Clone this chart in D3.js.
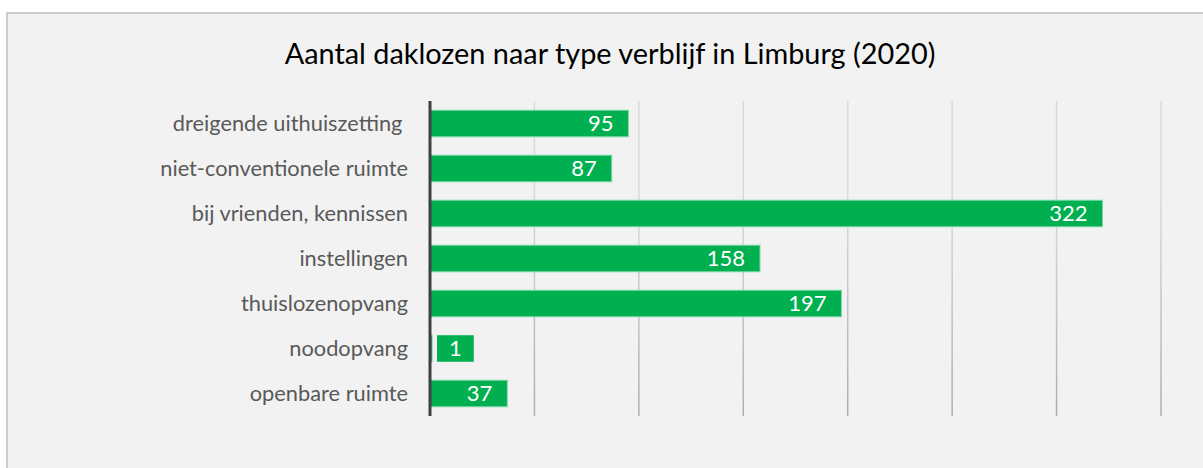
<!DOCTYPE html>
<html>
<head>
<meta charset="utf-8">
<script src="https://cdn.jsdelivr.net/npm/d3@7"></script>
<style>
  body { margin: 0; background: #ffffff; }
  svg { display: block; }
</style>
</head>
<body>
<div id="chart"></div>
<script>
var titleText = "Aantal daklozen naar type verblijf in Limburg (2020)";
var categories = [
    "dreigende uithuiszetting ",
    "niet-conventionele ruimte",
    "bij vrienden, kennissen",
    "instellingen",
    "thuislozenopvang",
    "noodopvang",
    "openbare ruimte"
];
var values = [95, 87, 322, 158, 197, 1, 37];
var tickValues = [0, 50, 100, 150, 200, 250, 300, 350];

var totalWidth = 1203,
    totalHeight = 468;

var margin = { top: 101, right: 42, bottom: 52, left: 430 };
var width = totalWidth - margin.left - margin.right,
    height = totalHeight - margin.top - margin.bottom;

var fontFamily = "Lato, 'Open Sans', sans-serif";

var data = categories.map(function(c, i) {
    return { name: c, value: values[i] };
});

var svg = d3.select("#chart").append("svg")
    .attr("width", totalWidth)
    .attr("height", totalHeight);

// chart area frame
svg.append("rect")
    .attr("x", 7)
    .attr("y", 13)
    .attr("width", totalWidth)
    .attr("height", totalHeight)
    .attr("fill", "#f2f2f2")
    .attr("stroke", "#bfbfbf")
    .attr("stroke-width", 1.5);

var defs = svg.append("defs");
var grad = defs.append("linearGradient")
    .attr("id", "gridGrad")
    .attr("gradientUnits", "userSpaceOnUse")
    .attr("x1", 0).attr("y1", margin.top)
    .attr("x2", 0).attr("y2", margin.top + height);
grad.append("stop").attr("offset", "0%").attr("stop-color", "#d9d9d9");
grad.append("stop").attr("offset", "100%").attr("stop-color", "#9a9a9a");

// title, sized so its width matches the original (Calibri is wider than Lato)
var title = svg.append("text")
    .attr("x", 610)
    .attr("y", 64)
    .attr("text-anchor", "middle")
    .attr("font-family", fontFamily)
    .attr("font-size", 25)
    .attr("fill", "#000000")
    .text(titleText);
var tw0 = title.node().getComputedTextLength();
title.attr("font-size", 25 * 651 / tw0);

var g = svg.append("g")
    .attr("transform", "translate(" + margin.left + "," + margin.top + ")");

var xScale = d3.scaleLinear()
    .domain([0, 350])
    .range([0, width]);

var yScale = d3.scaleBand()
    .domain(categories)
    .range([0, height])
    .paddingInner(0.41)
    .paddingOuter(0.205);

// vertical gridlines
g.selectAll(".grid")
    .data(tickValues.slice(1))
    .enter().append("line")
    .attr("class", "grid")
    .attr("x1", function(d) { return xScale(d); })
    .attr("x2", function(d) { return xScale(d); })
    .attr("y1", 0)
    .attr("y2", height)
    .attr("stroke", "url(#gridGrad)")
    .attr("stroke-width", 1.5);

// category labels
var yAxis = d3.axisLeft(yScale).tickSize(0).tickPadding(22);
var yAxisG = g.append("g").call(yAxis);
yAxisG.select(".domain").remove();
var catText = yAxisG.selectAll("text")
    .attr("font-family", fontFamily)
    .attr("font-size", 18)
    .attr("fill", "#595959")
    .attr("dy", "0.36em")
    .style("white-space", "pre");
var lw0 = d3.select(catText.nodes()[1]).node().getComputedTextLength();
catText.attr("font-size", 18 * 248 / lw0);

// bars
g.selectAll(".bar")
    .data(data)
    .enter().append("rect")
    .attr("class", "bar")
    .attr("x", xScale(0))
    .attr("y", function(d) { return yScale(d.name); })
    .attr("width", function(d) { return xScale(d.value) - xScale(0); })
    .attr("height", yScale.bandwidth())
    .attr("fill", "#00b050")
    .attr("stroke", "#7dd9a5")
    .attr("stroke-width", 1);

// value labels, inside end, with a green label box
var labels = g.selectAll(".lbl")
    .data(data)
    .enter().append("g")
    .attr("class", "lbl");

labels.each(function(d) {
    var lg = d3.select(this);
    var box = lg.append("rect").attr("fill", "#00b050");
    var t = lg.append("text")
        .attr("text-anchor", "end")
        .attr("font-family", fontFamily)
        .attr("font-size", 22)
        .attr("fill", "#ffffff")
        .attr("y", yScale(d.name) + yScale.bandwidth() / 2)
        .attr("dy", "0.36em")
        .text(d.value);
    var tw = t.node().getComputedTextLength();
    var lx = Math.max(xScale(d.value) - 15, xScale(0) + 7 + tw + 12);
    t.attr("x", lx);
    box.attr("x", lx - tw - 12)
        .attr("y", yScale(d.name))
        .attr("width", tw + 24 > xScale(d.value) - (lx - tw - 12) ? tw + 24 : 0)
        .attr("height", yScale.bandwidth());
});

// category axis line
g.append("line")
    .attr("x1", xScale(0))
    .attr("x2", xScale(0))
    .attr("y1", 0)
    .attr("y2", height)
    .attr("stroke", "#404040")
    .attr("stroke-width", 3);
</script>
</body>
</html>
